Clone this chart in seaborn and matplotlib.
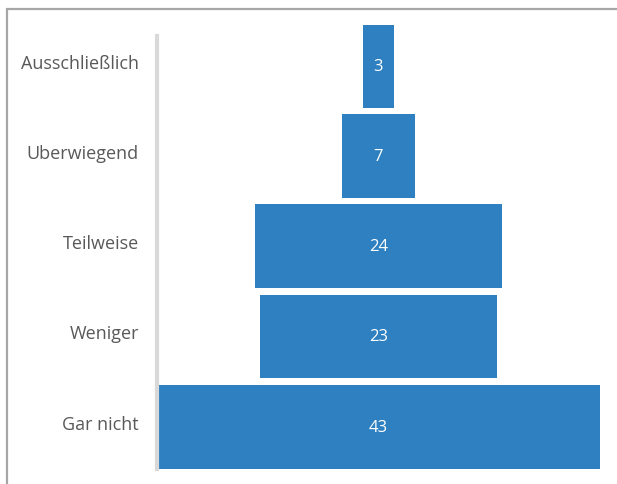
import matplotlib
matplotlib.use("Agg")
import matplotlib.pyplot as plt
from matplotlib.lines import Line2D
from matplotlib.transforms import ScaledTranslation
import seaborn as sns
import pandas as pd

categories = ["Ausschließlich", "Uberwiegend", "Teilweise", "Weniger", "Gar nicht"]
values = [3, 7, 24, 23, 43]

sns.set_theme(style="white")
plt.rcParams["font.family"] = ["Open Sans", "DejaVu Sans"]

W, H = 617, 485
fig = plt.figure(figsize=(W / 100, H / 100), dpi=100)

# axes placed in pixel terms: left 157, right 600, top 26, bottom 470
left, right, top, bottom = 157, 600, 26, 470
ax = fig.add_axes([left / W, 1 - bottom / H, (right - left) / W, (bottom - top) / H])

df = pd.DataFrame({"cat": categories, "val": values})
sns.barplot(data=df, x="val", y="cat", orient="h", color="#2e80c0",
            saturation=1, width=0.93, ax=ax)

# center each bar around zero to form a funnel
for p, v in zip(ax.patches, values):
    p.set_x(-p.get_width() / 2)
    p.set_edgecolor("none")
    ax.text(0, p.get_y() + p.get_height() / 2, str(v), ha="center", va="center",
            color="white", fontsize=12)

half = max(values) / 2
ax.set_xlim(-half, half)
ax.set_ylim(4.47, -0.455)

ax.set_xlabel("")
ax.set_ylabel("")
ax.set_xticks([])
ax.tick_params(axis="y", length=0, pad=13, labelsize=13, labelcolor="#595959")

# lift category labels slightly
for lab in ax.get_yticklabels():
    lab.set_transform(lab.get_transform() + ScaledTranslation(0, 5 / 100, fig.dpi_scale_trans))

for s in ["top", "right", "bottom"]:
    ax.spines[s].set_visible(False)
ax.spines["left"].set_color("#d9d9d9")
ax.spines["left"].set_linewidth(3)
ax.spines["left"].set_bounds(-0.33, 4.47)

# outer frame: top and left edges
fig.add_artist(Line2D([7 / W, 1], [1 - 10 / H, 1 - 10 / H], transform=fig.transFigure,
                      color="#a6a6a6", linewidth=1.6))
fig.add_artist(Line2D([7 / W, 7 / W], [0, 1 - 10 / H], transform=fig.transFigure,
                      color="#a6a6a6", linewidth=1.6))

fig.savefig("out.png", dpi=100)
